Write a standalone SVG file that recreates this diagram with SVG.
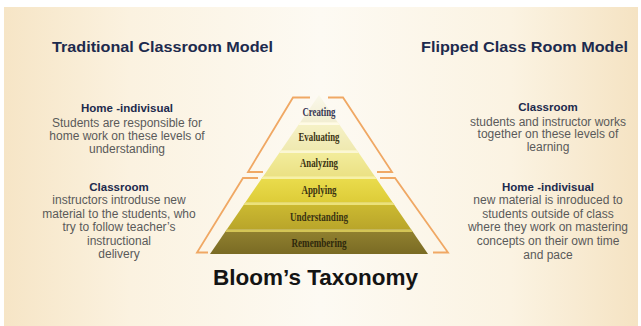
<svg xmlns="http://www.w3.org/2000/svg" width="641" height="326" viewBox="0 0 641 326">
  <defs>
    <linearGradient id="bg" x1="0" y1="0" x2="1" y2="0">
      <stop offset="0" stop-color="#f6e5c6"/>
      <stop offset="0.2" stop-color="#fbf2e0"/>
      <stop offset="0.5" stop-color="#fdfaf3"/>
      <stop offset="0.8" stop-color="#fbf3e2"/>
      <stop offset="1" stop-color="#f5e3c3"/>
    </linearGradient>
    <linearGradient id="g1" x1="0" y1="0" x2="0" y2="1"><stop offset="0" stop-color="#faf8ea"/><stop offset="1" stop-color="#f2eed2"/></linearGradient>
    <linearGradient id="g2" x1="0" y1="0" x2="0" y2="1"><stop offset="0" stop-color="#f6f2c8"/><stop offset="1" stop-color="#efe9b0"/></linearGradient>
    <linearGradient id="g3" x1="0" y1="0" x2="0" y2="1"><stop offset="0" stop-color="#f3ed9e"/><stop offset="1" stop-color="#ebe184"/></linearGradient>
    <linearGradient id="g4" x1="0" y1="0" x2="0" y2="1"><stop offset="0" stop-color="#ebdd4e"/><stop offset="1" stop-color="#ddcc38"/></linearGradient>
    <linearGradient id="g5" x1="0" y1="0" x2="0" y2="1"><stop offset="0" stop-color="#cdbb32"/><stop offset="1" stop-color="#b9a52a"/></linearGradient>
    <linearGradient id="g6" x1="0" y1="0" x2="0" y2="1"><stop offset="0" stop-color="#928230"/><stop offset="1" stop-color="#7a6b24"/></linearGradient>
  </defs>
  <style>
    .h{font-family:"Liberation Sans",Arial,sans-serif;font-weight:bold;fill:#1d2a4d;text-anchor:middle}
    .b{font-family:"Liberation Sans",Arial,sans-serif;font-size:12px;fill:#5a5a5a;text-anchor:middle}
    .sh{font-size:11.5px}
    .lbl{font-family:"Liberation Serif","Times New Roman",serif;font-size:11.5px;font-weight:bold;fill:#3a3312;text-anchor:middle}
    .br{fill:none;stroke:#f0a864;stroke-width:1.8;stroke-linejoin:miter}
  </style>
  <rect width="641" height="326" fill="#ffffff"/>
  <rect x="4" y="7" width="634" height="319" fill="url(#bg)"/>

  <g id="title-left"><text class="h" x="162.5" y="52" font-size="15.5" textLength="221" lengthAdjust="spacingAndGlyphs">Traditional Classroom Model</text></g>
  <g id="title-right"><text class="h" x="524.5" y="52" font-size="15.5" textLength="207" lengthAdjust="spacingAndGlyphs">Flipped Class Room Model</text></g>

  <g id="left-home">
    <text class="h sh" x="127" y="111.5">Home -indivisual</text>
    <text class="b" x="127" y="127">Students are responsible for</text>
    <text class="b" x="127" y="140">home work on these levels of</text>
    <text class="b" x="127" y="153">understanding</text>
  </g>
  <g id="left-classroom">
    <text class="h sh" x="119" y="191">Classroom</text>
    <text class="b" x="119" y="204">instructors introduse new</text>
    <text class="b" x="119" y="218">material to the students, who</text>
    <text class="b" x="119" y="231">try to follow teacher’s</text>
    <text class="b" x="119" y="245">instructional</text>
    <text class="b" x="119" y="258">delivery</text>
  </g>
  <g id="right-classroom">
    <text class="h sh" x="548" y="111">Classroom</text>
    <text class="b" x="548" y="125.5">students and instructor works</text>
    <text class="b" x="548" y="138">together on these levels of</text>
    <text class="b" x="548" y="151">learning</text>
  </g>
  <g id="right-home">
    <text class="h sh" x="548" y="191">Home -indivisual</text>
    <text class="b" x="548" y="204">new material is inroduced to</text>
    <text class="b" x="548" y="217.5">students outside of class</text>
    <text class="b" x="548" y="231">where they work on mastering</text>
    <text class="b" x="548" y="245">concepts on their own time</text>
    <text class="b" x="548" y="258.5">and pace</text>
  </g>

  <g id="pyramid">
    <g id="creating">
      <polygon points="319,95 300.1,122.5 337.9,122.5" fill="url(#g1)"/>
      <text class="lbl" x="319" y="116" style="fill:#363654" textLength="33" lengthAdjust="spacingAndGlyphs">Creating</text>
    </g>
    <g id="evaluating">
      <polygon points="300.1,122.5 337.9,122.5 357.1,150.5 280.9,150.5" fill="url(#g2)"/>
      <polygon points="300.1,122.5 337.9,122.5 339.6,125 298.4,125" fill="#fffbe6"/>
      <text class="lbl" x="319" y="141" textLength="41" lengthAdjust="spacingAndGlyphs">Evaluating</text>
    </g>
    <g id="analyzing">
      <polygon points="280.9,150.5 357.1,150.5 374.9,176.5 263.1,176.5" fill="url(#g3)"/>
      <polygon points="280.9,150.5 357.1,150.5 358.8,153 279.2,153" fill="#fbf7d4"/>
      <text class="lbl" x="319" y="166.5" textLength="38" lengthAdjust="spacingAndGlyphs">Analyzing</text>
    </g>
    <g id="applying">
      <polygon points="263.1,176.5 374.9,176.5 392.7,202.5 245.3,202.5" fill="url(#g4)"/>
      <polygon points="263.1,176.5 374.9,176.5 376.6,179 261.4,179" fill="#f6f0a8"/>
      <text class="lbl" x="319" y="193.5" textLength="35" lengthAdjust="spacingAndGlyphs">Applying</text>
    </g>
    <g id="understanding">
      <polygon points="245.3,202.5 392.7,202.5 411.2,229.5 226.8,229.5" fill="url(#g5)"/>
      <polygon points="245.3,202.5 392.7,202.5 394.4,205 243.6,205" fill="#ece27a"/>
      <text class="lbl" x="319" y="220.5" textLength="58" lengthAdjust="spacingAndGlyphs">Understanding</text>
    </g>
    <g id="remembering">
      <polygon points="226.8,229.5 411.2,229.5 428,254 210,254" fill="url(#g6)"/>
      <polygon points="226.8,229.5 411.2,229.5 412.9,232 225.1,232" fill="#d4c556"/>
      <text class="lbl" x="319" y="246.5" style="fill:#2e280c" textLength="55" lengthAdjust="spacingAndGlyphs">Remembering</text>
    </g>
  </g>

  <g id="brackets">
    <polyline class="br" points="310,97.5 293,97.5 248,172 263,172"/>
    <polyline class="br" points="328,97.5 343,97.5 392,172 377,172"/>
    <polyline class="br" points="258,178 243,178 197,252.5 208,252.5"/>
    <polyline class="br" points="380,178 395,178 448,252.5 433,252.5"/>
  </g>

  <g id="bloom-title"><text class="h" x="315.5" y="285" font-size="22" style="fill:#141414" textLength="205" lengthAdjust="spacingAndGlyphs">Bloom’s Taxonomy</text></g>
</svg>
